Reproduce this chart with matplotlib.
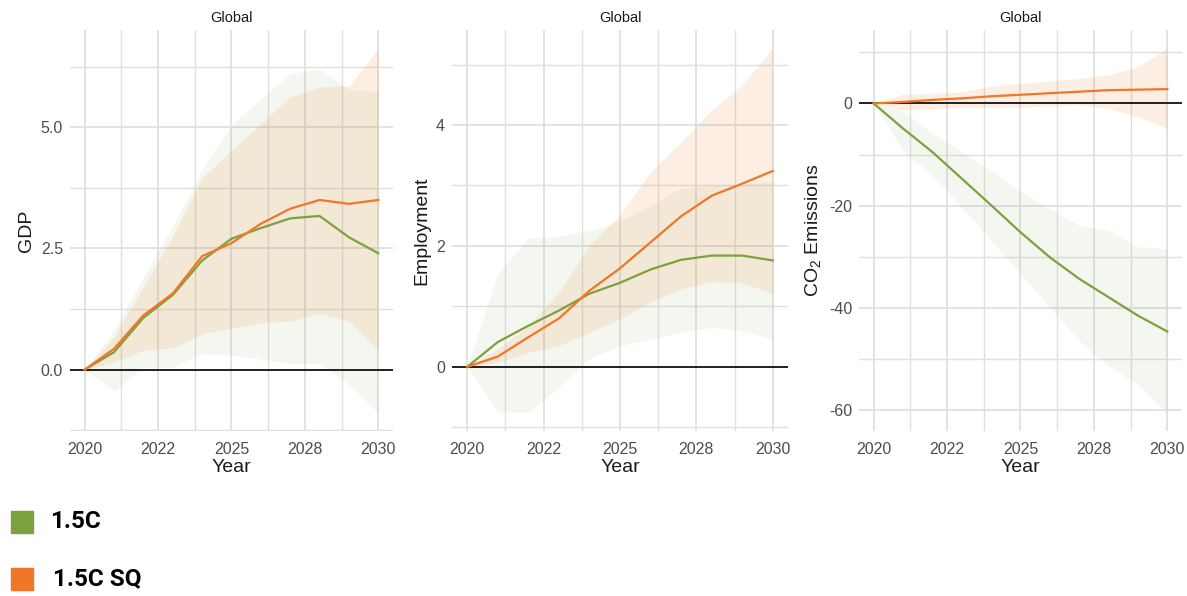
import numpy as np
import matplotlib
matplotlib.use('Agg')
import matplotlib.pyplot as plt
from matplotlib.patches import Rectangle

plt.rcParams['font.family'] = ['Liberation Sans', 'DejaVu Sans']
plt.rcParams['mathtext.fontset'] = 'custom'
plt.rcParams['mathtext.rm'] = 'Liberation Sans'
plt.rcParams['mathtext.it'] = 'Liberation Sans'

# ---- data ----
years = list(range(2020, 2031))

# GDP
gdp_15 = [0, 0.36, 1.07, 1.54, 2.25, 2.70, 2.92, 3.12, 3.17, 2.73, 2.40]
gdp_15_lo = [0, -0.44, 0.05, 0.05, 0.33, 0.30, 0.22, 0.12, 0.12, -0.30, -0.89]
gdp_15_hi = [0, 0.81, 1.92, 2.96, 4.14, 5.04, 5.59, 6.11, 6.20, 5.78, 5.73]
gdp_sq = [0, 0.43, 1.12, 1.57, 2.34, 2.61, 3.01, 3.32, 3.50, 3.42, 3.50]
gdp_sq_lo = [0, 0.15, 0.40, 0.45, 0.74, 0.85, 0.97, 1.00, 1.16, 1.00, 0.40]
gdp_sq_hi = [0, 0.67, 1.71, 2.75, 3.96, 4.52, 5.07, 5.63, 5.83, 5.85, 6.63]

# Employment
emp_15 = [0, 0.41, 0.68, 0.93, 1.21, 1.39, 1.61, 1.77, 1.84, 1.84, 1.76]
emp_15_lo = [0, -0.74, -0.76, -0.33, 0.14, 0.35, 0.46, 0.57, 0.66, 0.60, 0.46]
emp_15_hi = [0, 1.54, 2.13, 2.16, 2.26, 2.41, 2.66, 2.96, 3.00, 3.02, 3.07]
emp_sq = [0, 0.17, 0.49, 0.80, 1.26, 1.63, 2.06, 2.49, 2.83, 3.03, 3.24]
emp_sq_lo = [0, 0.07, 0.24, 0.35, 0.57, 0.79, 1.07, 1.29, 1.41, 1.39, 1.21]
emp_sq_hi = [0, 0.29, 0.68, 1.23, 2.01, 2.51, 3.23, 3.72, 4.25, 4.66, 5.27]

# CO2 emissions
co2_15 = [0, -4.9, -9.5, -14.7, -19.9, -25.2, -30.1, -34.3, -37.9, -41.5, -44.6]
co2_15_lo = [0, -9.2, -14.1, -20.3, -26.8, -33.3, -39.9, -46.4, -51.3, -54.9, -60.5]
co2_15_hi = [0, -1.5, -5.9, -9.5, -13.1, -17.3, -20.6, -23.9, -24.8, -28.1, -28.4]
co2_sq = [0, 0.3, 0.7, 1.0, 1.4, 1.7, 2.0, 2.3, 2.6, 2.7, 2.8]
co2_sq_lo = [0, -1.3, -1.0, -0.8, -0.8, -0.7, -0.5, -0.3, -1.0, -2.6, -4.9]
co2_sq_hi = [0, 1.8, 2.0, 2.3, 3.4, 3.9, 4.4, 4.9, 5.6, 7.2, 10.8]

x_major = [2020, 2022.5, 2025, 2027.5, 2030]
x_labels = ['2020', '2022', '2025', '2028', '2030']
x_minor = [2021.25, 2023.75, 2026.25, 2028.75]

GREEN = '#7BA23F'
ORANGE = '#F07628'

panels = [
    dict(label='GDP', s15=(gdp_15, gdp_15_lo, gdp_15_hi), ssq=(gdp_sq, gdp_sq_lo, gdp_sq_hi),
         ymaj=[0, 2.5, 5.0], ylab=['0.0', '2.5', '5.0'], ymin=[-1.25, 1.25, 3.75, 6.25],
         pos=[70, 393]),
    dict(label='Employment', s15=(emp_15, emp_15_lo, emp_15_hi), ssq=(emp_sq, emp_sq_lo, emp_sq_hi),
         ymaj=[0, 2, 4], ylab=['0', '2', '4'], ymin=[-1, 1, 3, 5],
         pos=[452, 788]),
    dict(label='CO$_2$ Emissions', s15=(co2_15, co2_15_lo, co2_15_hi), ssq=(co2_sq, co2_sq_lo, co2_sq_hi),
         ymaj=[-60, -40, -20, 0], ylab=['-60', '-40', '-20', '0'], ymin=[-50, -30, -10, 10],
         pos=[859, 1182]),
]

W, H = 1187, 596
fig = plt.figure(figsize=(W / 100, H / 100), dpi=100)

for p in panels:
    l, r = p['pos']
    ax = fig.add_axes([l / W, 1 - 431 / H, (r - l) / W, (431 - 30) / H])
    m, lo, hi = p['s15']
    ax.fill_between(years, lo, hi, color=GREEN, alpha=0.08, lw=0)
    m2, lo2, hi2 = p['ssq']
    ax.fill_between(years, lo2, hi2, color=ORANGE, alpha=0.12, lw=0)
    ax.axhline(0, color='black', lw=1.2, zorder=3)
    ax.plot(years, m, color=GREEN, lw=1.6, zorder=4)
    ax.plot(years, m2, color=ORANGE, lw=1.6, zorder=4)

    allv = lo + hi + lo2 + hi2
    vmin, vmax = min(allv), max(allv)
    pad = (vmax - vmin) * 0.05
    ax.set_ylim(vmin - pad, vmax + pad)
    ax.set_xlim(2019.5, 2030.5)

    ax.set_xticks(x_major)
    ax.set_xticklabels(x_labels)
    ax.set_xticks(x_minor, minor=True)
    ax.set_yticks(p['ymaj'])
    ax.set_yticklabels(p['ylab'])
    ax.set_yticks(p['ymin'], minor=True)
    ax.grid(True, which='major', color='#E0E0E0', lw=1.3, zorder=0)
    ax.grid(True, which='minor', color='#E0E0E0', lw=1.0, zorder=0)
    ax.set_axisbelow(True)
    ax.tick_params(which='both', length=0, labelsize=11.5, labelcolor='#4D4D4D')
    ax.tick_params(axis='x', pad=8)
    ax.tick_params(axis='y', pad=5)
    for s in ax.spines.values():
        s.set_visible(False)
    ax.set_xlabel('Year', fontsize=14, color='#1A1A1A', labelpad=1)
    ax.set_ylabel(p['label'], fontsize=14, color='#1A1A1A', labelpad=4)
    ax.set_title('Global', fontsize=10.5, color='#1A1A1A', pad=6)

# legend at bottom left
for yc, col, txt, tx in [(522, GREEN, '1.5C', 50), (579, ORANGE, '1.5C SQ', 53)]:
    fig.patches.append(Rectangle((11 / W, 1 - (yc + 11) / H), 22 / W, 22 / H,
                                 transform=fig.transFigure, color=col))
    fig.text(tx / W, 1 - yc / H, txt, fontsize=17.5, fontweight='bold',
             family=['Roboto', 'DejaVu Sans'], va='center', ha='left', color='black')

fig.savefig('out.png', dpi=100)
